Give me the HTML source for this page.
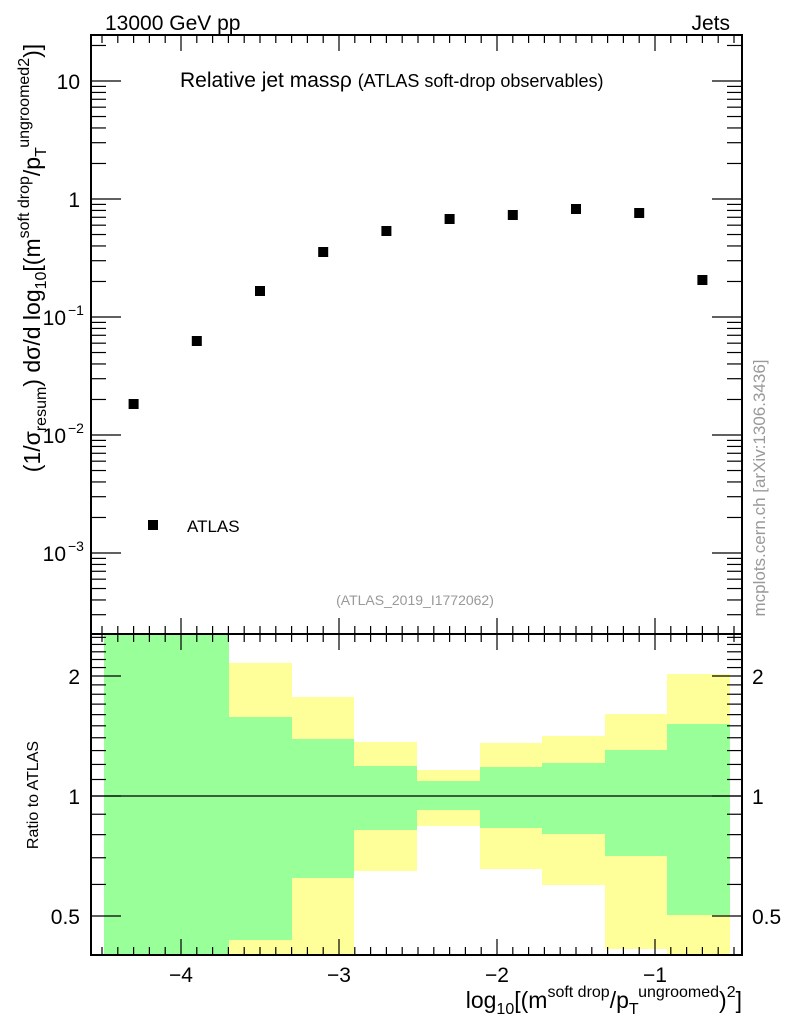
<!DOCTYPE html>
<html><head><meta charset="utf-8"><style>
body{margin:0;background:#fff}
svg{display:block;font-family:"Liberation Sans",sans-serif}
</style></head><body>
<svg id="s" width="786" height="1024" viewBox="0 0 786 1024" xmlns="http://www.w3.org/2000/svg">
<g id="bands"></g>
<line x1="91" y1="796" x2="742" y2="796" stroke="#000" stroke-width="1.2"/>
<g id="ticks" stroke="#000" stroke-width="1.2"></g>
<rect x="91" y="35" width="651" height="599" fill="none" stroke="#000" stroke-width="2"/>
<rect x="91" y="634" width="651" height="321" fill="none" stroke="#000" stroke-width="2"/>
<g id="pts"></g>
<text x="105" y="30" font-size="21">13000 GeV pp</text>
<text x="730" y="30" font-size="21" text-anchor="end">Jets</text>
<text x="180" y="87" font-size="21">Relative jet mass<tspan>ρ</tspan> <tspan font-size="18">(ATLAS soft-drop observables)</tspan></text>
<rect x="148" y="520" width="10" height="10" fill="#000"/>
<text x="187" y="532" font-size="17">ATLAS</text>
<text x="415" y="605" font-size="14" fill="#999" text-anchor="middle">(ATLAS_2019_I1772062)</text>
<text transform="translate(765,488) rotate(-90)" font-size="17" fill="#999" text-anchor="middle">mcplots.cern.ch [arXiv:1306.3436]</text>
<text transform="translate(38,795) rotate(-90)" font-size="16" text-anchor="middle">Ratio to ATLAS</text>
<text transform="translate(40,258) rotate(-90)" font-size="23" text-anchor="middle">(1/σ<tspan font-size="16" dy="6">resum</tspan><tspan dy="-6">) dσ/d log</tspan><tspan font-size="16" dy="6">10</tspan><tspan dy="-6">[(m</tspan><tspan font-size="16" dy="-11">soft drop</tspan><tspan dy="11">/p</tspan><tspan font-size="16" dy="6">T</tspan><tspan font-size="16" dy="-17">ungroomed</tspan><tspan font-size="16" dy="0">2</tspan><tspan dy="11">)]</tspan></text>
<text x="742" y="1008" font-size="23" text-anchor="end">log<tspan font-size="16" dy="6">10</tspan><tspan dy="-6">[(m</tspan><tspan font-size="16" dy="-11">soft drop</tspan><tspan dy="11">/p</tspan><tspan font-size="16" dy="6">T</tspan><tspan font-size="16" dy="-17">ungroomed</tspan><tspan dy="11">)</tspan><tspan font-size="16" dy="-11">2</tspan><tspan dy="11">]</tspan></text>
<g id="labels" font-size="21"></g>
</svg>
<script>
var NS="http://www.w3.org/2000/svg";
function el(p,t,a,txt){var e=document.createElementNS(NS,t);for(var k in a)e.setAttribute(k,a[k]);if(txt!==undefined)e.textContent=txt;document.getElementById(p).appendChild(e);return e;}
function X(v){return 655+(v+1)*158;}
var edges=[104,229,292,354,417,480,542,605,667,730];
var b=[[634,634,955,955],[663,717,940,955],[697,739,878,955],[742,766,830,871],[770,781,810,826],[743,767,828,869],[736,763,834,885],[714,750,856,949],[674,724,915,955]];
for(var i=0;i<9;i++){var x=edges[i],w=edges[i+1]-x,q=b[i];
el("bands","rect",{x:x,y:q[0],width:w,height:q[3]-q[0],fill:"#ffff99"});
el("bands","rect",{x:x,y:q[1],width:w,height:q[2]-q[1],fill:"#99ff99"});}
var py=[404,341,291,252,231,219,215,209,213,280];
for(var i=0;i<10;i++){var cx=X(-4.3+0.4*i);el("pts","rect",{x:cx-5,y:py[i]-5,width:10,height:10,fill:"#000"});}
for(var k=-46;k<=-4;k++){var v=k/10,x=X(v);if(x<92||x>741)continue;var maj=(k%10==0),L=maj?16:8;
[[35,1],[634,-1],[634,1],[955,-1]].forEach(function(a){el("ticks","line",{x1:x,y1:a[0],x2:x,y2:a[0]+a[1]*L});});
if(maj)el("labels","text",{x:x,y:982,"text-anchor":"middle"},"\u2212"+(-v));}
function Y(l){return 199-118*l;}
for(var d=-4;d<=1;d++)for(var m=1;m<10;m++){var y=Y(d+Math.log10(m));if(y<36||y>633)continue;var L=m==1?30:15;
el("ticks","line",{x1:91,y1:y,x2:91+L,y2:y});el("ticks","line",{x1:742,y1:y,x2:742-L,y2:y});}
var lab=[[1,"10",""],[0,"1",""],[-1,"10","\u22121"],[-2,"10","\u22122"],[-3,"10","\u22123"]];
lab.forEach(function(a){var t=el("labels","text",{x:a[2]?66:80,y:Y(a[0])+8,"text-anchor":"end"},a[1]);
if(a[2]){var s=el("labels","text",{x:68,y:Y(a[0])-2,"font-size":14},a[2]);}});
function R(r){return 796-120*Math.log2(r);}
[0.4,0.5,0.6,0.7,0.8,0.9,1,1.1,1.2,1.3,1.4,1.5,1.6,1.7,1.8,1.9,2,2.1,2.2,2.3,2.4,2.5].forEach(function(r){var y=R(r);if(y<635||y>954)return;
var maj=(r==0.5||r==1||r==2),L=maj?30:15;el("ticks","line",{x1:91,y1:y,x2:91+L,y2:y});el("ticks","line",{x1:742,y1:y,x2:742-L,y2:y});});
[[2,"2"],[1,"1"],[0.5,"0.5"]].forEach(function(a){el("labels","text",{x:80,y:R(a[0])+8,"text-anchor":"end"},a[1]);el("labels","text",{x:752,y:R(a[0])+8},a[1]);});
</script>
</body></html>
